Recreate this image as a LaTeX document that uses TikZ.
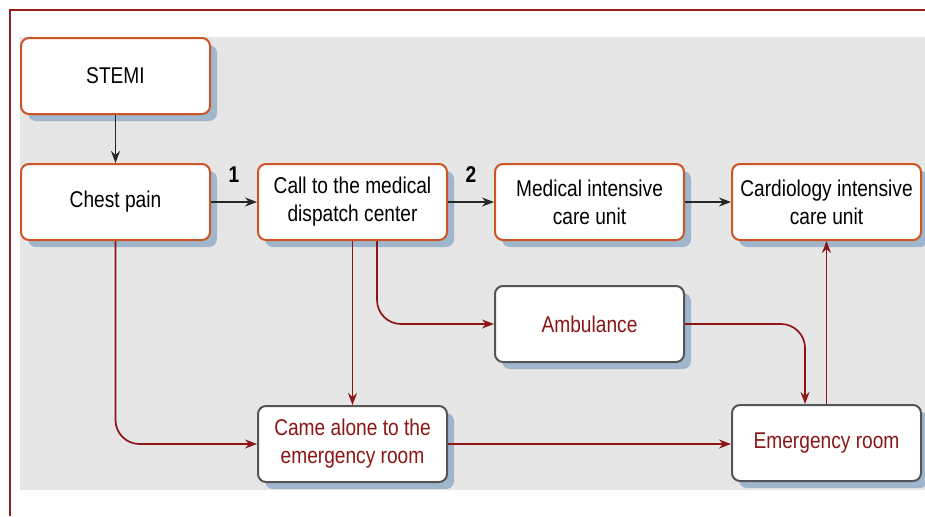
\documentclass[tikz,border=0pt]{standalone}
\usepackage{fontspec}
\setmainfont{Liberation Sans}[FakeStretch=0.84]
\usetikzlibrary{positioning, arrows.meta, shadows}
\definecolor{framered}{RGB}{150,30,30}
\definecolor{linered}{RGB}{140,22,22}
\definecolor{boxorange}{RGB}{205,85,35}
\definecolor{boxgray}{RGB}{85,85,85}
\definecolor{shadowblue}{RGB}{160,182,204}
\definecolor{bggray}{RGB}{230,230,230}

\begin{document}
\begin{tikzpicture}[
                x=0.5pt, y=-0.5pt,
                >={Stealth[length=6pt, width=4.5pt]},
                box/.style={draw=boxorange, line width=1pt, rectangle, rounded corners=4pt, fill=white, align=center, minimum width=94.5pt, minimum height=38pt, inner sep=2pt, font=\fontsize{11.4}{14}\selectfont, drop shadow={fill=shadowblue, opacity=1, shadow xshift=3.5pt, shadow yshift=-3.5pt}},
                boxred/.style={box, draw=boxgray, text=linered},
                blackline/.style={->, line width=0.85pt, black!85},
                redline/.style={->, line width=0.85pt, linered, rounded corners=12pt},
                numlbl/.style={font=\fontsize{11.4}{13}\selectfont\bfseries, black}
            ]
            \useasboundingbox (0,0) rectangle (925,516);
            % frame and background
            \draw[framered, line width=1pt] (10,516) -- (10,10) -- (925,10);
            \fill[bggray] (20,37) rectangle (925,490);

            % Nodes
            \node[box] (stemi) at (115.5, 76) {STEMI};
            \node[box] (chest) at (115.5, 202) {Chest pain};
            \node[box] (call) at (352.5, 202) {Call to the medical\\dispatch center};
            \node[box] (micu) at (589.5, 202) {Medical intensive\\care unit};
            \node[box] (cicu) at (826.5, 202) {Cardiology intensive\\care unit};
            \node[boxred] (amb) at (589.5, 324) {Ambulance};
            \node[boxred] (alone) at (352.5, 444) {Came alone to the\\emergency room};
            \node[boxred] (er) at (826.5, 443) {Emergency room};

            % Edges
            \draw[blackline] (stemi) -- (chest);
            \draw[blackline] (chest) -- node[above=6pt, numlbl] {1} (call);
            \draw[blackline] (call) -- node[above=6pt, numlbl] {2} (micu);
            \draw[blackline] (micu) -- (cicu);
            \draw[redline] (chest.south) |- (alone.west);
            \draw[redline] (call.south) -- (alone.north);
            \draw[redline] ([xshift=12.25pt]call.south) |- (amb.west);
            \draw[redline] (amb.east) -| ([xshift=-10.75pt]er.north);
            \draw[redline] (alone.east) -- (alone.east -| er.west);
            \draw[redline] (er.north) -- (cicu.south);
\end{tikzpicture}
\end{document}
